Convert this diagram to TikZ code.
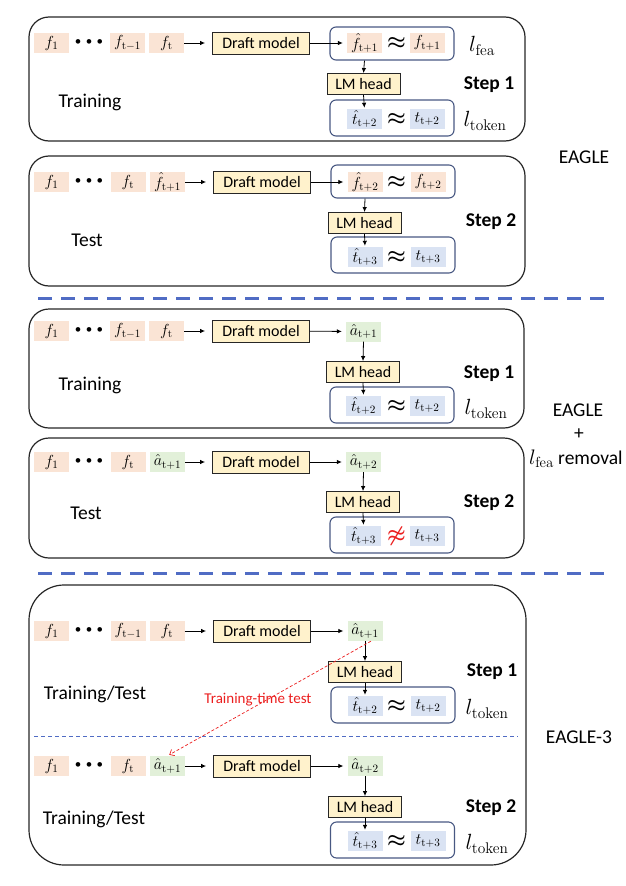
\RequirePackage{fix-cm}
\documentclass[tikz,border=0pt]{standalone}
\usepackage[no-math]{fontspec}
\setmainfont{Carlito}
\usetikzlibrary{arrows.meta,calc}
\definecolor{peach}{RGB}{250,228,213}
\definecolor{tokblue}{RGB}{218,227,243}
\definecolor{actgreen}{RGB}{226,240,217}
\definecolor{yel}{RGB}{255,242,204}
\definecolor{slate}{RGB}{72,88,130}
\definecolor{sepblue}{RGB}{80,108,196}
\definecolor{redc}{RGB}{235,30,30}
\tikzset{
  cell/.style={minimum width=35pt, minimum height=20pt, inner sep=0pt, font=\fontsize{16}{16}\selectfont},
  feat/.style={cell, fill=peach},
  tok/.style={cell, fill=tokblue},
  act/.style={cell, fill=actgreen},
  blk/.style={draw=black!85, fill=yel, line width=0.9pt, inner sep=0pt, font=\fontsize{16}{18}\selectfont},
  draftbox/.style={blk, minimum width=97pt, minimum height=22pt},
  lmbox/.style={blk, minimum width=73pt, minimum height=21pt},
  cmpbox/.style={draw=slate, line width=1.1pt, rounded corners=6pt, minimum width=124pt, minimum height=33pt, inner sep=0pt},
  cmpboxb/.style={cmpbox, minimum height=36pt},
  outerbox/.style={draw=black!85, line width=1.2pt, rounded corners=20pt, inner sep=0pt},
  apx/.style={inner sep=0pt, font=\fontsize{21}{21}\selectfont\boldmath},
  dotsn/.style={inner sep=0pt, font=\fontsize{13}{13}\selectfont},
  lbl/.style={inner sep=0pt, font=\fontsize{19.5}{22}\selectfont},
  steplbl/.style={inner sep=0pt, font=\fontsize{19.5}{22}\selectfont\bfseries},
  mlbl/.style={inner sep=0pt, font=\fontsize{22}{24}\selectfont},
  arr/.style={-{Latex[length=5pt,width=4.5pt]}, line width=0.8pt},
}
\newcommand{\threedots}{•\hspace{4.5pt}•\hspace{4.5pt}•}
\begin{document}
\begin{tikzpicture}[x=1pt,y=-1pt]
\useasboundingbox (0,0) rectangle (625,886);
% ---------- outer boxes ----------
\node[outerbox, minimum width=496pt, minimum height=124pt] (B1) at (277,79) {};
\node[outerbox, minimum width=496pt, minimum height=130pt] (B2) at (277,221) {};
\node[outerbox, minimum width=495pt, minimum height=119pt] (B3) at (276.5,368.5) {};
\node[outerbox, minimum width=495pt, minimum height=120pt] (B4) at (276.5,498) {};
\node[outerbox, rounded corners=35pt, minimum width=497pt, minimum height=280pt] (B5) at (277.5,725) {};
% separators
\draw[sepblue, line width=3pt, dash pattern=on 14pt off 9pt] (38,298) -- (612,298);
\draw[sepblue, line width=3pt, dash pattern=on 14pt off 9pt] (38,573) -- (612,573);
\draw[sepblue, line width=0.8pt, dash pattern=on 4pt off 3pt] (34,736) -- (518,736);

% ---------- Section 1 ----------
\node[feat] (s1f1) at (51.5,43) {$f_1$};
\node[dotsn] (s1d) at (89,43) {\threedots};
\node[feat] (s1f2) at (127.5,43) {$f_{\mathrm{t-1}}$};
\node[feat] (s1f3) at (166.5,43) {$f_{\mathrm{t}}$};
\node[draftbox] (s1dm) at (261,43) {Draft model};
\node[cmpbox] (s1c) at (392,43.5) {};
\node[feat] (s1h) at (364.5,43) {$\hat{f}_{\mathrm{t+1}}$};
\node[apx] (s1x) at (396.5,43) {$\approx$};
\node[feat] (s1g) at (427,43) {$f_{\mathrm{t+1}}$};
\node[mlbl] (s1lf) at (482,46) {$l_{\mathrm{fea}}$};
\node[lmbox] (s1lm) at (363.5,84) {LM head};
\node[cmpboxb] (s1c2) at (392,118) {};
\node[tok] (s1t) at (364.5,119) {$\hat{t}_{\mathrm{t+2}}$};
\node[apx] (s1y) at (396.5,119) {$\approx$};
\node[tok] (s1u) at (427,119) {$t_{\mathrm{t+2}}$};
\node[mlbl] (s1lt) at (485,121) {$l_{\mathrm{token}}$};
\node[steplbl] (s1st) at (489,85) {Step 1};
\node[lbl] (s1tr) at (90,102) {Training};
\draw[arr, shorten >=7pt] (s1f3) -- (s1dm);
\draw[arr, shorten >=4pt] (s1dm) -- (s1h);
\draw[arr] (s1h |- s1c.south) -- (s1lm.north);
\draw[arr, shorten >=1pt] (s1lm.south) -- (s1t.north);

% ---------- Section 2 ----------
\node[feat] (s2f1) at (51.5,182) {$f_1$};
\node[dotsn] (s2d) at (89,182) {\threedots};
\node[feat] (s2f3) at (128,182) {$f_{\mathrm{t}}$};
\node[feat] (s2f4) at (167.5,182) {$\hat{f}_{\mathrm{t+1}}$};
\node[draftbox] (s2dm) at (262,182) {Draft model};
\node[cmpbox] (s2c) at (393,181.5) {};
\node[feat] (s2h) at (365,182) {$\hat{f}_{\mathrm{t+2}}$};
\node[apx] (s2x) at (396.5,182) {$\approx$};
\node[feat] (s2g) at (428,182) {$f_{\mathrm{t+2}}$};
\node[lmbox] (s2lm) at (364.5,223) {LM head};
\node[cmpboxb] (s2c2) at (393,255) {};
\node[tok] (s2t) at (365,257) {$\hat{t}_{\mathrm{t+3}}$};
\node[apx] (s2y) at (396.5,257) {$\approx$};
\node[tok] (s2u) at (428,257) {$t_{\mathrm{t+3}}$};
\node[steplbl] (s2st) at (491,222) {Step 2};
\node[lbl] (s2te) at (87,240) {Test};
\draw[arr, shorten >=7pt] (s2f4) -- (s2dm);
\draw[arr, shorten >=4pt] (s2dm) -- (s2h);
\draw[arr] (s2h |- s2c.south) -- (s2lm.north);
\draw[arr, shorten >=1pt] (s2lm.south) -- (s2t.north);
\node[lbl] (e1) at (584,157) {EAGLE};

% ---------- Section 3 ----------
\node[feat] (s3f1) at (51.5,331) {$f_1$};
\node[dotsn] (s3d) at (89,331) {\threedots};
\node[feat] (s3f2) at (127.5,331) {$f_{\mathrm{t-1}}$};
\node[feat] (s3f3) at (166.5,331) {$f_{\mathrm{t}}$};
\node[draftbox] (s3dm) at (261,331) {Draft model};
\node[act] (s3a) at (363.5,331.5) {$\hat{a}_{\mathrm{t+1}}$};
\node[lmbox] (s3lm) at (363,372) {LM head};
\node[cmpboxb] (s3c2) at (392,405) {};
\node[tok] (s3t) at (363.5,406) {$\hat{t}_{\mathrm{t+2}}$};
\node[apx] (s3y) at (396.5,406) {$\approx$};
\node[tok] (s3u) at (427,406) {$t_{\mathrm{t+2}}$};
\node[mlbl] (s3lt) at (486,409) {$l_{\mathrm{token}}$};
\node[steplbl] (s3st) at (489,374) {Step 1};
\node[lbl] (s3tr) at (90,385) {Training};
\draw[arr, shorten >=7pt] (s3f3) -- (s3dm);
\draw[arr, shorten >=4pt] (s3dm) -- (s3a);
\draw[arr] (s3a.south) -- (s3lm.north);
\draw[arr, shorten >=1pt] (s3lm.south) -- (s3t.north);

% ---------- Section 4 ----------
\node[feat] (s4f1) at (51.5,462) {$f_1$};
\node[dotsn] (s4d) at (89,462) {\threedots};
\node[feat] (s4f3) at (128,462) {$f_{\mathrm{t}}$};
\node[act] (s4f4) at (167.5,462) {$\hat{a}_{\mathrm{t+1}}$};
\node[draftbox] (s4dm) at (261,462) {Draft model};
\node[act] (s4a) at (363.5,462) {$\hat{a}_{\mathrm{t+2}}$};
\node[lmbox] (s4lm) at (363,502) {LM head};
\node[cmpboxb] (s4c2) at (392,535) {};
\node[tok] (s4t) at (363.5,536) {$\hat{t}_{\mathrm{t+3}}$};
\node[apx, text=redc] (s4y) at (396.5,536) {$\not\approx$};
\node[tok] (s4u) at (427,536) {$t_{\mathrm{t+3}}$};
\node[steplbl] (s4st) at (489,503) {Step 2};
\node[lbl] (s4te) at (86,513) {Test};
\draw[arr, shorten >=7pt] (s4f4) -- (s4dm);
\draw[arr, shorten >=4pt] (s4dm) -- (s4a);
\draw[arr] (s4a.south) -- (s4lm.north);
\draw[arr, shorten >=1pt] (s4lm.south) -- (s4t.north);
\node[lbl] (e2) at (578,410) {EAGLE};
\node[lbl] (e2p) at (579,434) {+};
\node[anchor=west, inner sep=0pt, font=\fontsize{19.5}{22}\selectfont] (e2r) at (529,459) {{\fontsize{21}{22}\selectfont$l_{\mathrm{fea}}$} removal};

% ---------- Section 5 ----------
\node[feat] (s5f1) at (51.5,631) {$f_1$};
\node[dotsn] (s5d) at (89,631) {\threedots};
\node[feat] (s5f2) at (128,631) {$f_{\mathrm{t-1}}$};
\node[feat] (s5f3) at (167,631) {$f_{\mathrm{t}}$};
\node[draftbox] (s5dm) at (262,631) {Draft model};
\node[act] (s5a) at (365,631) {$\hat{a}_{\mathrm{t+1}}$};
\node[lmbox] (s5lm) at (365,672) {LM head};
\node[cmpboxb] (s5c2) at (393,705) {};
\node[tok] (s5t) at (365,706) {$\hat{t}_{\mathrm{t+2}}$};
\node[apx] (s5y) at (396.5,706) {$\approx$};
\node[tok] (s5u) at (428,706) {$t_{\mathrm{t+2}}$};
\node[mlbl] (s5lt) at (487,709) {$l_{\mathrm{token}}$};
\node[steplbl] (s5st) at (492,672) {Step 1};
\node[lbl] (s5tr) at (95,694) {Training/Test};
\draw[arr, shorten >=7pt] (s5f3) -- (s5dm);
\draw[arr, shorten >=4pt] (s5dm) -- (s5a);
\draw[arr] (s5a.south) -- (s5lm.north);
\draw[arr, shorten >=1pt] (s5lm.south) -- (s5t.north);

% ---------- Section 6 ----------
\node[feat] (s6f1) at (51.5,766) {$f_1$};
\node[dotsn] (s6d) at (89,766) {\threedots};
\node[feat] (s6f3) at (128,766) {$f_{\mathrm{t}}$};
\node[act] (s6f4) at (167.5,766) {$\hat{a}_{\mathrm{t+1}}$};
\node[draftbox] (s6dm) at (262,766) {Draft model};
\node[act] (s6a) at (365,766) {$\hat{a}_{\mathrm{t+2}}$};
\node[lmbox] (s6lm) at (365,807) {LM head};
\node[cmpboxb] (s6c2) at (392.5,840) {};
\node[tok] (s6t) at (365,841) {$\hat{t}_{\mathrm{t+3}}$};
\node[apx] (s6y) at (396.5,841) {$\approx$};
\node[tok] (s6u) at (428,841) {$t_{\mathrm{t+3}}$};
\node[mlbl] (s6lt) at (487,844) {$l_{\mathrm{token}}$};
\node[steplbl] (s6st) at (491,808) {Step 2};
\node[lbl] (s6tr) at (94,819) {Training/Test};
\draw[arr, shorten >=7pt] (s6f4) -- (s6dm);
\draw[arr, shorten >=4pt] (s6dm) -- (s6a);
\draw[arr] (s6a.south) -- (s6lm.north);
\draw[arr, shorten >=1pt] (s6lm.south) -- (s6t.north);
\node[lbl] (e3) at (579,737) {EAGLE-3};

% training-time test
\draw[redc, line width=0.7pt, dash pattern=on 3pt off 2pt, -{Straight Barb[length=4pt,width=7pt]}, shorten >=2pt] (s5a.-60) -- (s6f4.north);
\node[inner sep=0pt, text=redc, font=\fontsize{15}{16}\selectfont] (ttt) at (258,700) {Training-time test};
\end{tikzpicture}
\end{document}
